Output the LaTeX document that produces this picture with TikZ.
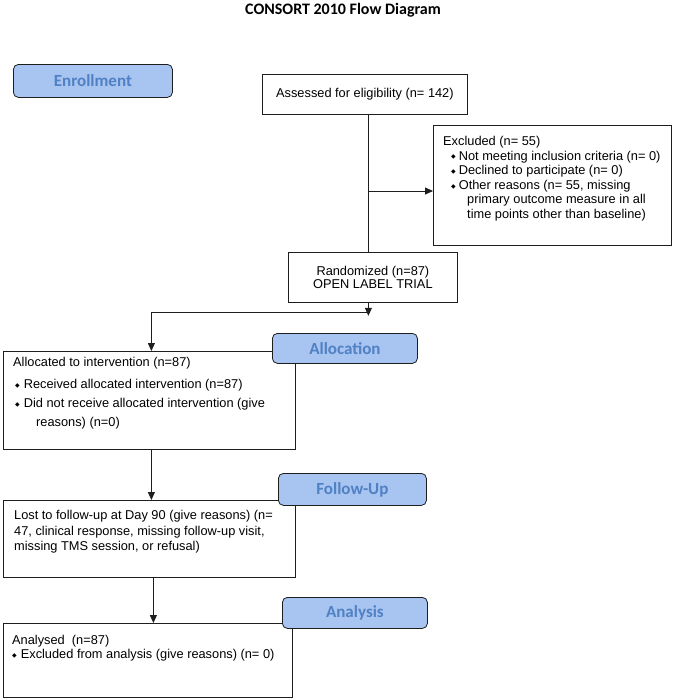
\documentclass[tikz,border=0pt]{standalone}
\usepackage{fontspec}
\setmainfont{Liberation Sans}
\newfontfamily\calib{Carlito}
\newfontfamily\djv{DejaVu Sans}
\usetikzlibrary{arrows.meta}
\definecolor{lblue}{RGB}{168,196,240}
\definecolor{ltext}{RGB}{79,129,196}
\definecolor{edge}{RGB}{30,30,30}
\newcommand\dmd{\raisebox{1.2pt}{\djv\fontsize{6}{6}\selectfont ◆}}
\begin{document}
\begin{tikzpicture}[x=1pt,y=-1pt,
  box/.style={draw=edge, line width=0.8pt, inner sep=0pt, anchor=north west, fill=white,
    font=\fontsize{12.8}{13}\selectfont},
  stage/.style={draw=edge, line width=0.8pt, fill=lblue, rounded corners=5pt, anchor=north west,
    inner sep=0pt, text=ltext, font=\calib\bfseries\fontsize{17}{17}\selectfont},
  txt/.style={anchor=base west, inner sep=0pt, align=left},
  arr/.style={-{Triangle[length=8pt,width=7pt]}, line width=0.8pt, draw=edge},
  ln/.style={line width=0.8pt, draw=edge}]
\fill[white] (0,0) rectangle (685,699);
\useasboundingbox (0,0) rectangle (685,699);

\node[inner sep=0pt, font=\calib\bfseries\fontsize{16}{16}\selectfont] (title) at (343,10) {CONSORT 2010 Flow Diagram};

% main boxes
\node[box, minimum width=205, minimum height=40] (assess) at (262,74) {Assessed for eligibility (n= 142)};
\node[box, minimum width=238, minimum height=120] (excl) at (433,125) {};
\node[box, minimum width=169, minimum height=50, align=center] (rand) at (288,252) {Randomized (n=87)\\OPEN LABEL TRIAL};
\node[box, minimum width=292, minimum height=98] (alloc) at (3,351) {};
\node[box, minimum width=292, minimum height=77] (lost) at (3,500) {};
\node[box, minimum width=289, minimum height=74] (anal) at (3,623) {};

% texts (anchored at the baseline of their last line)
\node[txt, font=\fontsize{12.8}{14.6}\selectfont] (excltxt) at (443,218.5) {Excluded (n= 55)\\
\hspace*{8pt}\dmd\hspace*{3pt}Not meeting inclusion criteria (n= 0)\\
\hspace*{8pt}\dmd\hspace*{3pt}Declined to participate (n= 0)\\
\hspace*{8pt}\dmd\hspace*{3pt}Other reasons (n= 55, missing\\
\hspace*{24pt}primary outcome measure in all\\
\hspace*{24pt}time points other than baseline)};

\node[txt, font=\fontsize{12.8}{19}\selectfont] (alloctxt) at (13,426.5) {Allocated to intervention (n=87)\\[3pt]
\hspace*{2pt}\dmd\hspace*{4pt}Received allocated intervention (n=87)\\
\hspace*{2pt}\dmd\hspace*{4pt}Did not receive allocated intervention (give\\
\hspace*{23pt}reasons) (n=0)};

\node[txt, font=\fontsize{12.8}{15.5}\selectfont] (losttxt) at (14,550.5) {Lost to follow-up at Day 90 (give reasons) (n=\\
47, clinical response, missing follow-up visit,\\
missing TMS session, or refusal)};

\node[txt, font=\fontsize{12.8}{14}\selectfont] (analtxt) at (12,658.5) {Analysed\ \ (n=87)\\
\dmd\hspace*{4pt}Excluded from analysis (give reasons) (n= 0)};

% connectors
\draw[ln] ([xshift=3.5]assess.south) -- ([xshift=-4.5]rand.north);
\coordinate (j1) at (368,191);
\draw[arr] (j1) -- (j1 -| excl.west);
\draw[arr] ([xshift=-4.5]rand.south) -- ++(0,13);
\coordinate (j2) at (368,312);
\draw[arr] (j2) -| ([xshift=2]alloc.north);
\draw[arr] ([xshift=2]alloc.south) -- ([xshift=2]alloc.south |- lost.north);
\draw[arr] ([xshift=4]lost.south) -- ([xshift=4]lost.south |- anal.north);

% stage labels
\node[stage, minimum width=159, minimum height=33] (enrol) at (13,64) {Enrollment};
\node[stage, minimum width=145, minimum height=30] (allocl) at (272,333) {Allocation};
\node[stage, minimum width=148, minimum height=32] (follow) at (278,473) {Follow-Up};
\node[stage, minimum width=145, minimum height=31] (analysis) at (282,597) {Analysis};
\end{tikzpicture}
\end{document}
